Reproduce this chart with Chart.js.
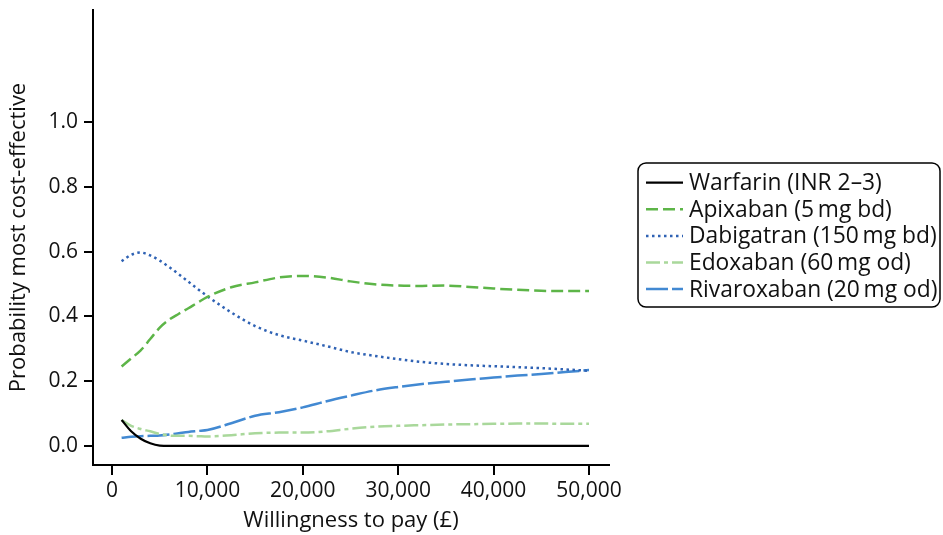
<!DOCTYPE html>
<html>
<head>
<meta charset="utf-8">
<script src="https://cdn.jsdelivr.net/npm/chart.js@4"></script>
<style>
  html, body { margin: 0; padding: 0; background: #fff; }
  #wrap { width: 943px; height: 535px; }
</style>
</head>
<body>
<div id="wrap"><canvas id="ceac" width="943" height="535"></canvas></div>
<script>
// willingness to pay (£) grid
const wtp = [1000, 2000, 3000, 4000, 5000, 6000, 7000, 8000, 9000, 10000,
  12500, 15000, 17500, 20000, 22500, 25000, 27500, 30000, 32500, 35000,
  37500, 40000, 42500, 45000, 47500, 50000];

const warfarin = [0.080, 0.045, 0.022, 0.008, 0.001, 0, 0, 0, 0, 0,
  0, 0, 0, 0, 0, 0, 0, 0, 0, 0, 0, 0, 0, 0, 0, 0];
const apixaban = [0.245, 0.270, 0.295, 0.330, 0.365, 0.390, 0.408, 0.425, 0.443, 0.460,
  0.490, 0.505, 0.520, 0.525, 0.520, 0.508, 0.499, 0.495, 0.494, 0.495,
  0.491, 0.486, 0.482, 0.479, 0.478, 0.478];
const dabigatran = [0.570, 0.590, 0.597, 0.588, 0.572, 0.552, 0.530, 0.507, 0.484, 0.462,
  0.412, 0.370, 0.342, 0.325, 0.308, 0.290, 0.278, 0.268, 0.259, 0.253,
  0.249, 0.246, 0.243, 0.240, 0.236, 0.232];
const edoxaban = [0.080, 0.062, 0.052, 0.045, 0.037, 0.032, 0.031, 0.031, 0.030, 0.029,
  0.033, 0.039, 0.041, 0.041, 0.045, 0.053, 0.059, 0.062, 0.064, 0.066,
  0.067, 0.068, 0.069, 0.069, 0.068, 0.068];
const rivaroxaban = [0.025, 0.028, 0.030, 0.031, 0.032, 0.035, 0.039, 0.043, 0.046, 0.049,
  0.070, 0.093, 0.104, 0.119, 0.138, 0.155, 0.171, 0.182, 0.191, 0.198,
  0.205, 0.211, 0.217, 0.222, 0.228, 0.234];

const seriesNames = ['Warfarin (INR 2\u20133)', 'Apixaban (5\u2009mg bd)', 'Dabigatran (150\u2009mg bd)',
  'Edoxaban (60\u2009mg od)', 'Rivaroxaban (20\u2009mg od)'];
const xTicks = [0, 10000, 20000, 30000, 40000, 50000];
const yTicks = [0, 0.2, 0.4, 0.6, 0.8, 1.0];

const FONT = "'Open Sans', 'Noto Sans', sans-serif";

function pts(ys) {
  return wtp.map((x, i) => ({ x: x, y: ys[i] }));
}

function line(label, ys, color, dash, width) {
  return {
    label: label,
    data: pts(ys),
    borderColor: color,
    backgroundColor: color,
    borderDash: dash,
    borderWidth: width,
    pointRadius: 0,
    fill: false,
    cubicInterpolationMode: 'monotone'
  };
}

// boxed legend on the right, drawn from the datasets
const boxLegend = {
  id: 'boxLegend',
  afterDraw(chart) {
    const ctx = chart.ctx;
    const x0 = 638, y0 = 163, w = 302, h = 144, r = 8;
    ctx.save();
    ctx.setLineDash([]);
    ctx.lineWidth = 1.5;
    ctx.strokeStyle = '#000';
    ctx.beginPath();
    ctx.roundRect(x0, y0, w, h, r);
    ctx.stroke();
    ctx.font = '22.8px ' + FONT;
    ctx.textBaseline = 'middle';
    ctx.fillStyle = '#111';
    chart.data.datasets.forEach((ds, i) => {
      const y = 182.7 + i * 26.6;
      ctx.strokeStyle = ds.borderColor;
      ctx.lineWidth = ds.borderWidth;
      ctx.setLineDash(ds.borderDash || []);
      ctx.beginPath();
      ctx.moveTo(646, y);
      ctx.lineTo(683, y);
      ctx.stroke();
      ctx.setLineDash([]);
      ctx.fillText(ds.label, 689, y + 1);
    });
    ctx.restore();
  }
};

new Chart(document.getElementById('ceac'), {
  type: 'line',
  data: {
    datasets: [
      line(seriesNames[0], warfarin, '#000000', [], 2.2),
      line(seriesNames[1], apixaban, '#5db548', [12, 5], 2.5),
      line(seriesNames[2], dabigatran, '#2f62b4', [2.5, 3.5], 2.5),
      line(seriesNames[3], edoxaban, '#a9d89b', [14, 4, 4, 4], 2.5),
      line(seriesNames[4], rivaroxaban, '#4289d2', [22, 4], 2.5)
    ]
  },
  options: {
    responsive: false,
    animation: false,
    layout: { padding: { top: 10, right: 334, left: 0, bottom: 0 } },
    plugins: {
      legend: { display: false },
      tooltip: { enabled: false }
    },
    scales: {
      x: {
        type: 'linear',
        min: -2000,
        max: 52100,
        afterFit: s => { s.height = 70; s.paddingLeft = 0; s.paddingRight = 0; },
        afterBuildTicks: s => { s.ticks = xTicks.map(v => ({ value: v })); },
        border: { display: true, color: '#000', width: 2 },
        grid: { display: true, drawOnChartArea: false, drawTicks: true, tickLength: 10, color: '#000', lineWidth: 2 },
        ticks: {
          color: '#111',
          padding: 3,
          maxRotation: 0,
          font: { family: FONT, size: 21 },
          callback: v => v.toLocaleString('en-US')
        },
        title: {
          display: true,
          text: 'Willingness to pay (\u00a3)',
          color: '#111',
          font: { family: FONT, size: 22 },
          padding: { top: 0, bottom: 1 }
        }
      },
      y: {
        type: 'linear',
        min: -0.059,
        max: 1.346,
        afterFit: s => { s.width = 93; s.paddingTop = 0; s.paddingBottom = 0; },
        afterBuildTicks: s => { s.ticks = yTicks.map(v => ({ value: v })); },
        border: { display: true, color: '#000', width: 2 },
        grid: { display: true, drawOnChartArea: false, drawTicks: true, tickLength: 9, color: '#000', lineWidth: 2 },
        ticks: {
          color: '#111',
          padding: 6,
          font: { family: FONT, size: 21 },
          callback: v => v.toFixed(1)
        },
        title: {
          display: true,
          text: 'Probability most cost-effective',
          color: '#111',
          font: { family: FONT, size: 22 },
          padding: { top: 6, bottom: 0 }
        }
      }
    }
  },
  plugins: [boxLegend]
});
</script>
</body>
</html>
